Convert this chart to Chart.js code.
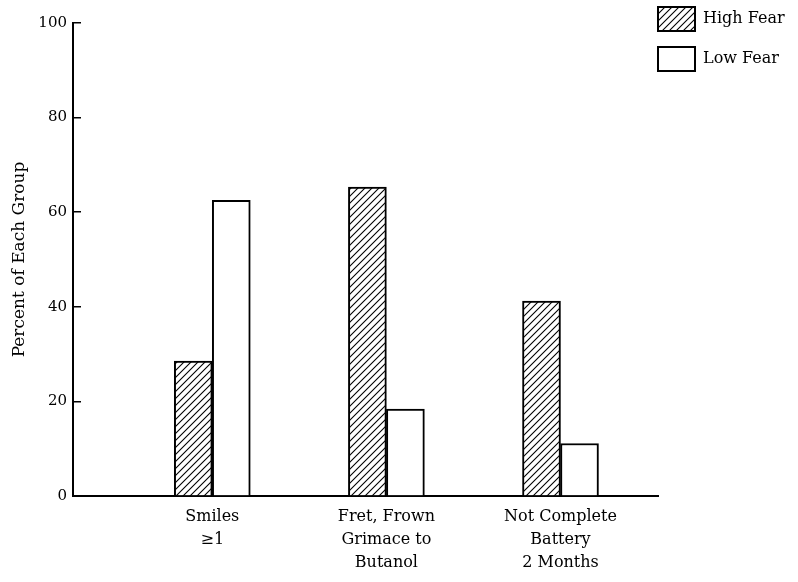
<!DOCTYPE html>
<html>
<head>
<meta charset="utf-8">
<script src="https://cdn.jsdelivr.net/npm/chart.js@4.4.1/dist/chart.umd.min.js"></script>
<style>
  html, body { margin: 0; padding: 0; background: #fff; }
  #wrap { width: 798px; height: 582px; position: relative; }
</style>
</head>
<body>
<div id="wrap"><canvas id="fearChart"></canvas></div>
<script>
// categories (multi-line labels) and the two series
const categories = [
    ['Smiles', '≥1'],
    ['Fret, Frown', 'Grimace to', 'Butanol'],
    ['Not Complete', 'Battery', '2 Months']
];
const highFear = [28.5, 65.3, 41.2];
const lowFear = [62.5, 18.4, 11.1];
const yTicks = [0, 20, 40, 60, 80, 100];

const serif = 'DejaVu Serif';

// diagonal hatch for the high fear bars
function makeHatch() {
    const s = 7;
    const c = document.createElement('canvas');
    c.width = s; c.height = s;
    const g = c.getContext('2d');
    g.fillStyle = '#fff';
    g.fillRect(0, 0, s, s);
    g.strokeStyle = '#000';
    g.lineWidth = 1.1;
    g.beginPath();
    g.moveTo(0, s); g.lineTo(s, 0);
    g.moveTo(-1, 1); g.lineTo(1, -1);
    g.moveTo(s - 1, s + 1); g.lineTo(s + 1, s - 1);
    g.stroke();
    return g.createPattern(c, 'repeat');
}

// place the legend in the top right corner, outside the plot
const legendSpot = {
    id: 'legendSpot',
    afterLayout(chart) {
        const lg = chart.legend;
        lg.left = chart.chartArea.right - 16;
        lg.top = -9;
        lg.right = lg.left + lg.width;
        lg.bottom = lg.top + lg.height;
    }
};

const ctx = document.getElementById('fearChart').getContext('2d');
const fearChart = new Chart(ctx, {
    type: 'bar',
    data: {
        datasets: [{
            label: 'High Fear',
            data: highFear.map((v, i) => ({ x: i + 1, y: v })),
            backgroundColor: makeHatch(),
            borderColor: '#000',
            borderWidth: 2,
            barThickness: 38
        }, {
            label: 'Low Fear',
            data: lowFear.map((v, i) => ({ x: i + 1, y: v })),
            backgroundColor: '#fff',
            borderColor: '#000',
            borderWidth: 2,
            barThickness: 38
        }]
    },
    options: {
        responsive: true,
        maintainAspectRatio: false,
        animation: false,
        layout: { padding: { top: 16, right: 140, left: 0, bottom: 0 } },
        plugins: {
            tooltip: { enabled: false },
            legend: {
                position: 'chartArea',
                align: 'start',
                labels: {
                    boxWidth: 37,
                    boxHeight: 24,
                    padding: 16,
                    color: '#000',
                    font: { family: serif, size: 16 }
                }
            }
        },
        scales: {
            x: {
                type: 'linear',
                offset: false,
                min: 0.2,
                max: 3.56,
                afterBuildTicks: (scale) => {
                    scale.ticks = categories.map((c, i) => ({ value: i + 1 }));
                },
                afterFit: (scale) => { scale.height = 86; },
                grid: { display: false, drawTicks: false, offset: false },
                border: { display: true, color: '#000', width: 2 },
                ticks: {
                    color: '#000',
                    padding: 9,
                    maxRotation: 0,
                    autoSkip: false,
                    font: { family: serif, size: 16, lineHeight: 1.45 },
                    callback: (v) => categories[v - 1] || ''
                }
            },
            y: {
                min: 0,
                max: 100,
                afterBuildTicks: (scale) => {
                    scale.ticks = yTicks.map(v => ({ value: v }));
                },
                afterFit: (scale) => { scale.width = 73; },
                grid: {
                    drawOnChartArea: false,
                    drawTicks: true,
                    tickLength: -8,
                    color: '#000',
                    lineWidth: 1.5
                },
                border: { display: true, color: '#000', width: 2 },
                ticks: {
                    color: '#000',
                    padding: 14,
                    font: { family: serif, size: 15 }
                },
                title: {
                    display: true,
                    text: 'Percent of Each Group',
                    color: '#000',
                    padding: { top: 9, bottom: 0 },
                    font: { family: serif, size: 17 }
                }
            }
        }
    },
    plugins: [legendSpot]
});
</script>
</body>
</html>
